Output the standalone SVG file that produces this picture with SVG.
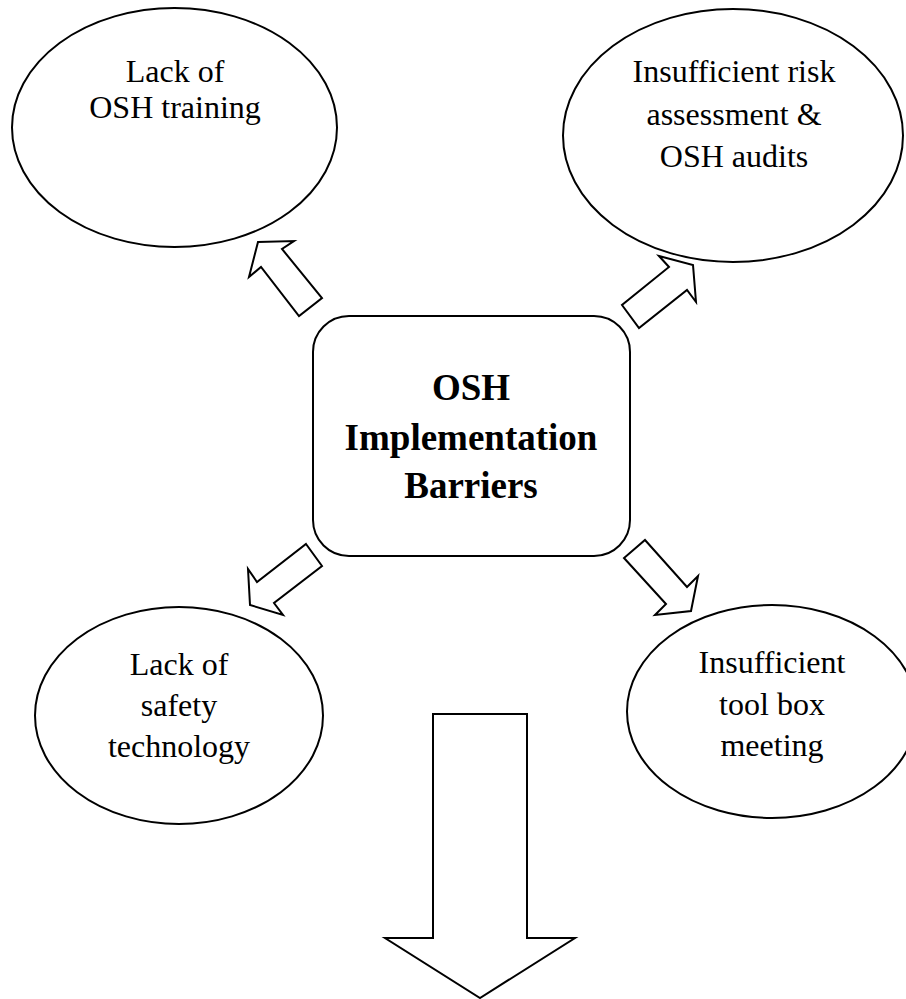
<svg xmlns="http://www.w3.org/2000/svg" width="906" height="999" viewBox="0 0 906 999">
<style>
.shape{fill:#fff;stroke:#000;stroke-width:2;stroke-linejoin:miter}
.lbl{font-family:"Liberation Serif","Times New Roman",serif;font-size:32px;fill:#000;text-anchor:middle}
.title{font-family:"Liberation Serif","Times New Roman",serif;font-size:37px;font-weight:bold;fill:#000;text-anchor:middle}
</style>
<rect width="906" height="999" fill="#fff"/>
<g id="n-training">
<ellipse class="shape" cx="174.5" cy="127.5" rx="162.5" ry="119.5"/>
<text class="lbl" x="175" y="82">Lack of</text>
<text class="lbl" x="175" y="118">OSH training</text>
</g>
<g id="n-risk">
<ellipse class="shape" cx="733" cy="135.5" rx="170" ry="126.5"/>
<text class="lbl" x="734" y="82">Insufficient risk</text>
<text class="lbl" x="734" y="125">assessment &amp;</text>
<text class="lbl" x="734" y="167">OSH audits</text>
</g>
<g id="n-tech">
<ellipse class="shape" cx="179" cy="715.5" rx="144" ry="108.5"/>
<text class="lbl" x="179" y="675">Lack of</text>
<text class="lbl" x="179" y="716">safety</text>
<text class="lbl" x="179" y="757">technology</text>
</g>
<g id="n-toolbox">
<ellipse class="shape" cx="772" cy="711.5" rx="145" ry="106.5"/>
<text class="lbl" x="772" y="673">Insufficient</text>
<text class="lbl" x="772" y="715">tool box</text>
<text class="lbl" x="772" y="756">meeting</text>
</g>
<g id="n-center">
<rect class="shape" x="313" y="316" width="317" height="240" rx="36" ry="36"/>
<text class="title" x="471" y="400">OSH</text>
<text class="title" x="471" y="450">Implementation</text>
<text class="title" x="471" y="498">Barriers</text>
</g>
<g id="connectors">
<polygon class="shape" points="258,242 294,241 282,249 322,298 299,316 261,267 249,277"/>
<polygon class="shape" points="659,256 693,265 696,302 687,290 639,328 622,305 669,267"/>
<polygon class="shape" points="306,544 322,566 274,603 283,615 250,605 248,569 257,582"/>
<polygon class="shape" points="645,540 687,587 698,576 691,611 655,615 666,604 624,558"/>
<polygon class="shape" points="433,714 527,714 527,938 575,938 480,998 385,938 433,938"/>
</g>
</svg>
